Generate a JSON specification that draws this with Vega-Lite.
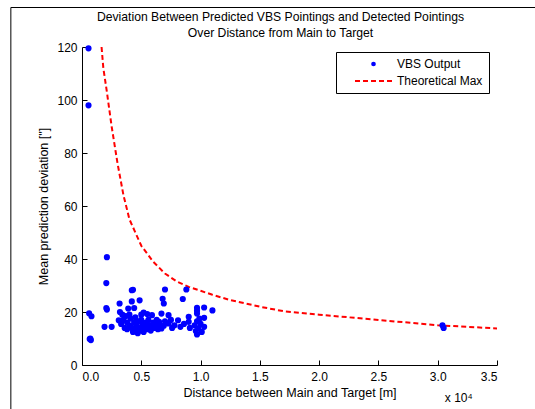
{
  "$schema": "https://vega.github.io/schema/vega-lite/v6.json",
  "width": 415,
  "height": 318,
  "autosize": "none",
  "padding": {"left": 82, "top": 47, "right": 38, "bottom": 44},
  "background": "white",
  "config": {
    "font": "Liberation Sans",
    "view": {"stroke": null},
    "axis": {
      "grid": false,
      "domainColor": "black",
      "tickColor": "black",
      "labelColor": "black",
      "titleColor": "black",
      "labelFontSize": 12,
      "titleFontSize": 12.5,
      "titleFontWeight": "normal",
      "tickSize": -5,
      "labelFont": "Liberation Sans",
      "titleFont": "Liberation Sans"
    }
  },
  "title": {
    "text": ["Deviation Between Predicted VBS Pointings and Detected Pointings", "Over Distance from Main to Target"],
    "fontSize": 12.2,
    "fontWeight": "normal",
    "font": "Liberation Sans",
    "color": "black",
    "anchor": "middle",
    "dx": -9,
    "offset": -32,
    "lineHeight": 16
  },
  "datasets": {
    "curve": [
      {"d": 0.165, "v": 120, "series": "Theoretical Max"},
      {"d": 0.18, "v": 112, "series": "Theoretical Max"},
      {"d": 0.21, "v": 103, "series": "Theoretical Max"},
      {"d": 0.25, "v": 90, "series": "Theoretical Max"},
      {"d": 0.3, "v": 76, "series": "Theoretical Max"},
      {"d": 0.35, "v": 64, "series": "Theoretical Max"},
      {"d": 0.4, "v": 55, "series": "Theoretical Max"},
      {"d": 0.5, "v": 45, "series": "Theoretical Max"},
      {"d": 0.6, "v": 39, "series": "Theoretical Max"},
      {"d": 0.7, "v": 34.5, "series": "Theoretical Max"},
      {"d": 0.8, "v": 31.5, "series": "Theoretical Max"},
      {"d": 0.9, "v": 29.5, "series": "Theoretical Max"},
      {"d": 1.0, "v": 28, "series": "Theoretical Max"},
      {"d": 1.1, "v": 26.5, "series": "Theoretical Max"},
      {"d": 1.25, "v": 24.5, "series": "Theoretical Max"},
      {"d": 1.5, "v": 22, "series": "Theoretical Max"},
      {"d": 1.7, "v": 20.3, "series": "Theoretical Max"},
      {"d": 2.0, "v": 19, "series": "Theoretical Max"},
      {"d": 2.5, "v": 17, "series": "Theoretical Max"},
      {"d": 3.0, "v": 15, "series": "Theoretical Max"},
      {"d": 3.5, "v": 13.8, "series": "Theoretical Max"}
    ],
    "pts": [
      {"d": 0.055, "v": 119.5, "series": "VBS Output"},
      {"d": 0.055, "v": 98, "series": "VBS Output"},
      {"d": 0.06, "v": 19.5, "series": "VBS Output"},
      {"d": 0.08, "v": 18.4, "series": "VBS Output"},
      {"d": 0.07, "v": 10, "series": "VBS Output"},
      {"d": 0.075, "v": 9.4, "series": "VBS Output"},
      {"d": 0.065, "v": 9.8, "series": "VBS Output"},
      {"d": 0.21, "v": 40.7, "series": "VBS Output"},
      {"d": 0.205, "v": 30.9, "series": "VBS Output"},
      {"d": 0.205, "v": 21.5, "series": "VBS Output"},
      {"d": 0.21, "v": 20.9, "series": "VBS Output"},
      {"d": 0.19, "v": 14.4, "series": "VBS Output"},
      {"d": 0.25, "v": 14.4, "series": "VBS Output"},
      {"d": 0.317, "v": 23.2, "series": "VBS Output"},
      {"d": 0.42, "v": 28.2, "series": "VBS Output"},
      {"d": 0.43, "v": 28.4, "series": "VBS Output"},
      {"d": 0.42, "v": 24, "series": "VBS Output"},
      {"d": 0.486, "v": 24.4, "series": "VBS Output"},
      {"d": 0.7, "v": 28.5, "series": "VBS Output"},
      {"d": 0.68, "v": 25, "series": "VBS Output"},
      {"d": 0.69, "v": 23.2, "series": "VBS Output"},
      {"d": 0.88, "v": 28.5, "series": "VBS Output"},
      {"d": 0.85, "v": 24.9, "series": "VBS Output"},
      {"d": 1.1, "v": 20.6, "series": "VBS Output"},
      {"d": 1.03, "v": 21.7, "series": "VBS Output"},
      {"d": 1.03, "v": 17.8, "series": "VBS Output"},
      {"d": 0.97, "v": 21.6, "series": "VBS Output"},
      {"d": 0.97, "v": 20.5, "series": "VBS Output"},
      {"d": 0.97, "v": 19.4, "series": "VBS Output"},
      {"d": 0.32, "v": 20, "series": "VBS Output"},
      {"d": 0.39, "v": 21.3, "series": "VBS Output"},
      {"d": 0.44, "v": 21.5, "series": "VBS Output"},
      {"d": 0.52, "v": 19.8, "series": "VBS Output"},
      {"d": 0.59, "v": 18.8, "series": "VBS Output"},
      {"d": 0.31, "v": 16.9, "series": "VBS Output"},
      {"d": 0.62, "v": 15, "series": "VBS Output"},
      {"d": 0.37, "v": 18.5, "series": "VBS Output"},
      {"d": 0.4, "v": 19, "series": "VBS Output"},
      {"d": 0.33, "v": 15.5, "series": "VBS Output"},
      {"d": 0.35, "v": 17, "series": "VBS Output"},
      {"d": 0.36, "v": 14, "series": "VBS Output"},
      {"d": 0.38, "v": 16, "series": "VBS Output"},
      {"d": 0.38, "v": 13.5, "series": "VBS Output"},
      {"d": 0.4, "v": 15, "series": "VBS Output"},
      {"d": 0.41, "v": 17.5, "series": "VBS Output"},
      {"d": 0.42, "v": 14, "series": "VBS Output"},
      {"d": 0.43, "v": 12.5, "series": "VBS Output"},
      {"d": 0.44, "v": 16, "series": "VBS Output"},
      {"d": 0.45, "v": 18, "series": "VBS Output"},
      {"d": 0.45, "v": 13.5, "series": "VBS Output"},
      {"d": 0.46, "v": 15, "series": "VBS Output"},
      {"d": 0.47, "v": 12, "series": "VBS Output"},
      {"d": 0.48, "v": 16.5, "series": "VBS Output"},
      {"d": 0.49, "v": 14, "series": "VBS Output"},
      {"d": 0.5, "v": 13, "series": "VBS Output"},
      {"d": 0.5, "v": 17, "series": "VBS Output"},
      {"d": 0.51, "v": 15.5, "series": "VBS Output"},
      {"d": 0.52, "v": 12.5, "series": "VBS Output"},
      {"d": 0.53, "v": 14.5, "series": "VBS Output"},
      {"d": 0.54, "v": 16, "series": "VBS Output"},
      {"d": 0.55, "v": 13.5, "series": "VBS Output"},
      {"d": 0.56, "v": 17, "series": "VBS Output"},
      {"d": 0.57, "v": 15, "series": "VBS Output"},
      {"d": 0.58, "v": 13, "series": "VBS Output"},
      {"d": 0.6, "v": 16, "series": "VBS Output"},
      {"d": 0.61, "v": 14, "series": "VBS Output"},
      {"d": 0.63, "v": 17, "series": "VBS Output"},
      {"d": 0.64, "v": 13.5, "series": "VBS Output"},
      {"d": 0.66, "v": 15, "series": "VBS Output"},
      {"d": 0.67, "v": 19.4, "series": "VBS Output"},
      {"d": 0.73, "v": 18.8, "series": "VBS Output"},
      {"d": 0.9, "v": 18.2, "series": "VBS Output"},
      {"d": 0.65, "v": 16.3, "series": "VBS Output"},
      {"d": 0.73, "v": 15.7, "series": "VBS Output"},
      {"d": 0.81, "v": 16.9, "series": "VBS Output"},
      {"d": 0.9, "v": 16.3, "series": "VBS Output"},
      {"d": 0.97, "v": 16.5, "series": "VBS Output"},
      {"d": 0.67, "v": 13.8, "series": "VBS Output"},
      {"d": 0.76, "v": 14, "series": "VBS Output"},
      {"d": 0.83, "v": 14.4, "series": "VBS Output"},
      {"d": 0.91, "v": 14, "series": "VBS Output"},
      {"d": 0.98, "v": 13.8, "series": "VBS Output"},
      {"d": 1.03, "v": 14.4, "series": "VBS Output"},
      {"d": 0.97, "v": 11.5, "series": "VBS Output"},
      {"d": 1.01, "v": 12.5, "series": "VBS Output"},
      {"d": 0.7, "v": 16.5, "series": "VBS Output"},
      {"d": 0.75, "v": 17, "series": "VBS Output"},
      {"d": 0.78, "v": 15, "series": "VBS Output"},
      {"d": 0.86, "v": 15.5, "series": "VBS Output"},
      {"d": 0.95, "v": 15, "series": "VBS Output"},
      {"d": 1.0, "v": 15.5, "series": "VBS Output"},
      {"d": 0.99, "v": 17.5, "series": "VBS Output"},
      {"d": 0.96, "v": 12.8, "series": "VBS Output"},
      {"d": 0.69, "v": 14.8, "series": "VBS Output"},
      {"d": 0.6, "v": 14.5, "series": "VBS Output"},
      {"d": 0.5, "v": 19, "series": "VBS Output"},
      {"d": 0.55, "v": 19.2, "series": "VBS Output"},
      {"d": 0.34, "v": 19, "series": "VBS Output"},
      {"d": 3.04, "v": 15, "series": "VBS Output"},
      {"d": 3.05, "v": 14, "series": "VBS Output"}
    ],
    "note": [{"d": 3.06, "v": -12.5, "t": "x 10⁴"}],
    "frame": [{"d": -0.6, "v": 134.9, "d2": 3.9, "v2": -20}]
  },
  "layer": [
    {
      "data": {"name": "curve"},
      "mark": {"type": "line", "strokeDash": [5, 3], "strokeWidth": 2, "clip": true},
      "encoding": {
        "x": {
          "field": "d", "type": "quantitative",
          "scale": {"domain": [0, 3.5], "nice": false, "zero": false},
          "axis": {"values": [0, 0.5, 1, 1.5, 2, 2.5, 3, 3.5], "title": "Distance between Main and Target [m]", "labelPadding": 11, "titlePadding": 4}
        },
        "y": {
          "field": "v", "type": "quantitative",
          "scale": {"domain": [0, 120], "nice": false},
          "axis": {"values": [0, 20, 40, 60, 80, 100, 120], "title": "Mean prediction deviation [\"]", "labelPadding": 10, "titlePadding": 6}
        },
        "color": {
          "field": "series", "type": "nominal",
          "scale": {"domain": ["VBS Output", "Theoretical Max"], "range": ["#0000ff", "#ff0000"]},
          "legend": {
            "title": null,
            "orient": "none",
            "legendX": 254,
            "legendY": 5,
            "strokeColor": "black",
            "fillColor": "white",
            "padding": 6,
            "labelFontSize": 12,
            "labelColor": "black",
            "labelFont": "Liberation Sans",
            "rowPadding": 5,
            "labelOffset": 17.5,
            "symbolOffset": 25.5,
            "symbolStrokeWidth": 2,
            "encode": {
              "symbols": {
                "update": {
                  "shape": {"signal": "datum.value === 'Theoretical Max' ? 'stroke' : 'circle'"},
                  "size": {"signal": "datum.value === 'Theoretical Max' ? 1369 : 22"},
                  "stroke": {"scale": "color", "field": "value"},
                  "fill": {"scale": "color", "field": "value"},
                  "strokeDash": {"signal": "datum.value === 'Theoretical Max' ? [5, 3] : [1, 0]"},
                  "strokeWidth": {"signal": "datum.value === 'Theoretical Max' ? 2 : 0"}
                }
              }
            }
          }
        }
      }
    },
    {
      "data": {"name": "pts"},
      "mark": {"type": "point", "filled": true, "opacity": 1, "size": 38},
      "encoding": {
        "x": {"field": "d", "type": "quantitative"},
        "y": {"field": "v", "type": "quantitative"},
        "color": {"field": "series", "type": "nominal"}
      }
    },
    {
      "data": {"name": "note"},
      "mark": {"type": "text", "clip": false, "fontSize": 12, "font": "Liberation Sans", "color": "black", "align": "left"},
      "encoding": {
        "x": {"field": "d", "type": "quantitative"},
        "y": {"field": "v", "type": "quantitative"},
        "text": {"field": "t"}
      }
    },
    {
      "data": {"name": "frame"},
      "mark": {"type": "rule", "clip": false, "color": "black", "strokeWidth": 1},
      "encoding": {
        "x": {"field": "d", "type": "quantitative"},
        "x2": {"field": "d2"},
        "y": {"field": "v", "type": "quantitative"}
      }
    },
    {
      "data": {"name": "frame"},
      "mark": {"type": "rule", "clip": false, "color": "black", "strokeWidth": 1},
      "encoding": {
        "x": {"field": "d", "type": "quantitative"},
        "y": {"field": "v", "type": "quantitative"},
        "y2": {"field": "v2"}
      }
    }
  ]
}
